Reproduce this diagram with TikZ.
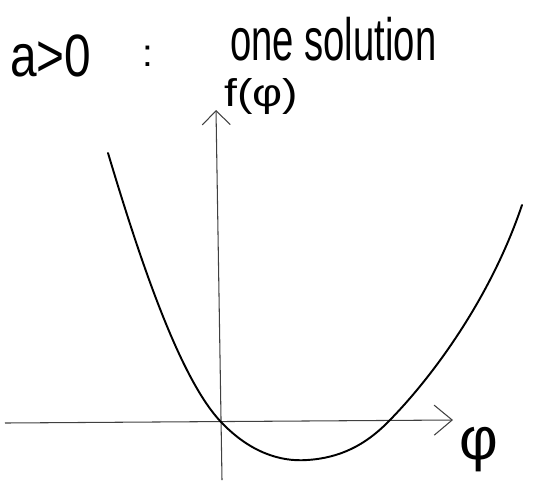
\documentclass[tikz,border=0pt]{standalone}
\usepackage{fontspec}
\setmainfont{Liberation Sans}
\usetikzlibrary{arrows.meta, positioning}

\begin{document}
\begin{tikzpicture}[x=0.02cm, y=-0.02cm,
    axis/.style={draw=black!75, line width=0.6pt},
    graph/.style={draw=black, line width=1.1pt, line cap=round},
    hand/.style={inner sep=0pt, font=\fontsize{34}{40}\selectfont},
    small/.style={inner sep=0pt, font=\fontsize{22}{26}\selectfont}
  ]
  \useasboundingbox (0,0) rectangle (534,495);
  \coordinate (o) at (222,423);
  \coordinate (root) at (387,423);
  \coordinate (low) at (307,460);
  \coordinate (xl) at (5,423);
  \coordinate (xr) at (453,420);
  \coordinate (yb) at (222,480);
  \coordinate (yt) at (216,110);
  \draw[axis, -{Straight Barb[length=0.36cm, width=0.6cm]}] (xl) -- (xr);
  \draw[axis, -{Straight Barb[length=0.28cm, width=0.56cm]}] (yb) -- (yt);
  \draw[graph] (108,153) .. controls (140,260) and (180,380) .. (o)
    .. controls (250,452) and (280,462) .. (low)
    .. controls (340,458) and (365,445) .. (root)
    .. controls (430,380) and (490,300) .. (522,205);
  \node[hand, xscale=0.8, anchor=base west] (cond) at (10,76) {a>0};
  \node[small, anchor=base] (colon) at (148,66) {:};
  \node[hand, xscale=0.64, anchor=base west] (sol) at (230,60) {one solution};
  \node[small, xscale=1.2, anchor=base west] (fy) at (224,106) {f(φ)};
  \node[hand, anchor=base] (phi) at (479,459) {φ};
\end{tikzpicture}
\end{document}
